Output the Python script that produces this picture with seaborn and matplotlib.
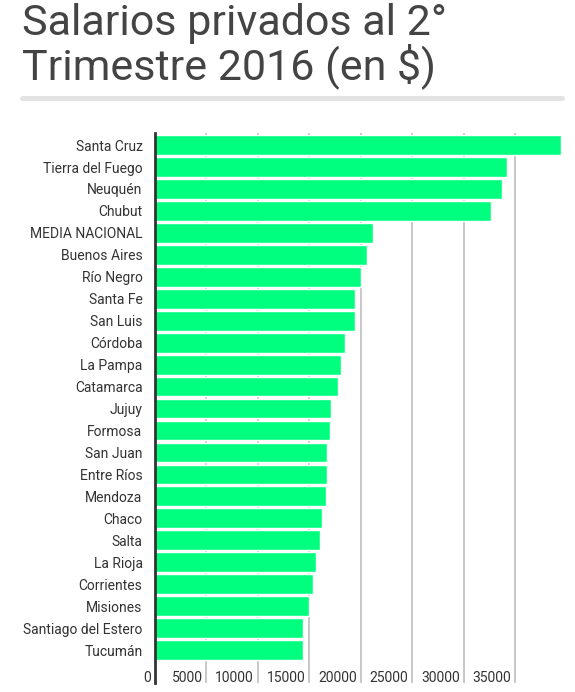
import matplotlib
matplotlib.use("Agg")
import matplotlib.pyplot as plt
import matplotlib.transforms as mtransforms
import pandas as pd
import seaborn as sns

# Salario promedio privado, 2do trimestre 2016
provincias = [
    "Santa Cruz", "Tierra del Fuego", "Neuquén", "Chubut", "MEDIA NACIONAL",
    "Buenos Aires", "Río Negro", "Santa Fe", "San Luis", "Córdoba",
    "La Pampa", "Catamarca", "Jujuy", "Formosa", "San Juan", "Entre Ríos",
    "Mendoza", "Chaco", "Salta", "La Rioja", "Corrientes", "Misiones",
    "Santiago del Estero", "Tucumán",
]
salarios = [
    39500, 34260, 33700, 32700, 21160,
    20610, 20060, 19470, 19400, 18430,
    18040, 17780, 17070, 17050, 16750, 16720,
    16590, 16260, 16000, 15650, 15320, 15000,
    14420, 14350,
]
x_ticks = [0, 5000, 10000, 15000, 20000, 25000, 30000, 35000]

df = pd.DataFrame({"provincia": provincias, "salario": salarios})

sns.set_theme(style="white")
plt.rcParams["font.family"] = ["Roboto", "DejaVu Sans"]

W, H = 575, 692
fig = plt.figure(figsize=(W / 100, H / 100), dpi=100)
ax = fig.add_axes([155 / W, 1 - 683 / H, (562 - 155) / W, (683 - 133) / H])

sns.barplot(data=df, x="salario", y="provincia", orient="h",
            color="#00ff7f", saturation=1, width=0.9, ax=ax)

ax.set_xlim(0, 39560)
ax.set_ylim(24.5, -0.55)
ax.set_xticks(x_ticks)
ax.set_xticklabels([str(v) for v in x_ticks])
ax.set_xlabel("")
ax.set_ylabel("")

# gridlines behind the bars
ax.set_axisbelow(True)
ax.grid(axis="x", color="#c8c8c8", linewidth=1.4)
ax.grid(axis="y", visible=False)

for side in ["top", "right", "bottom"]:
    ax.spines[side].set_visible(False)
ax.spines["left"].set_color("#333333")
ax.spines["left"].set_linewidth(2)

ax.tick_params(axis="y", length=0, pad=9, labelsize=10, labelcolor="#333333")
ax.tick_params(axis="x", length=0, pad=-8.5, labelsize=10, labelcolor="#333333")

# x labels sit inside the plot, right-aligned just left of their gridline
shift = mtransforms.ScaledTranslation(-4 / 100, 0, fig.dpi_scale_trans)
for lab in ax.get_xticklabels():
    lab.set_ha("right")
    lab.set_transform(lab.get_transform() + shift)

fig.text(22 / W, 1 - 3 / H, "Salarios privados al 2°\nTrimestre 2016 (en $)",
         ha="left", va="top", fontsize=31, color="#444444",
         linespacing=0.97)

# gray rule under the title
fig.add_artist(plt.Line2D([22 / W, 562 / W], [1 - 97.5 / H, 1 - 97.5 / H],
                          color="#e3e3e3", linewidth=3.6,
                          transform=fig.transFigure))

fig.savefig("out.png", dpi=100)
